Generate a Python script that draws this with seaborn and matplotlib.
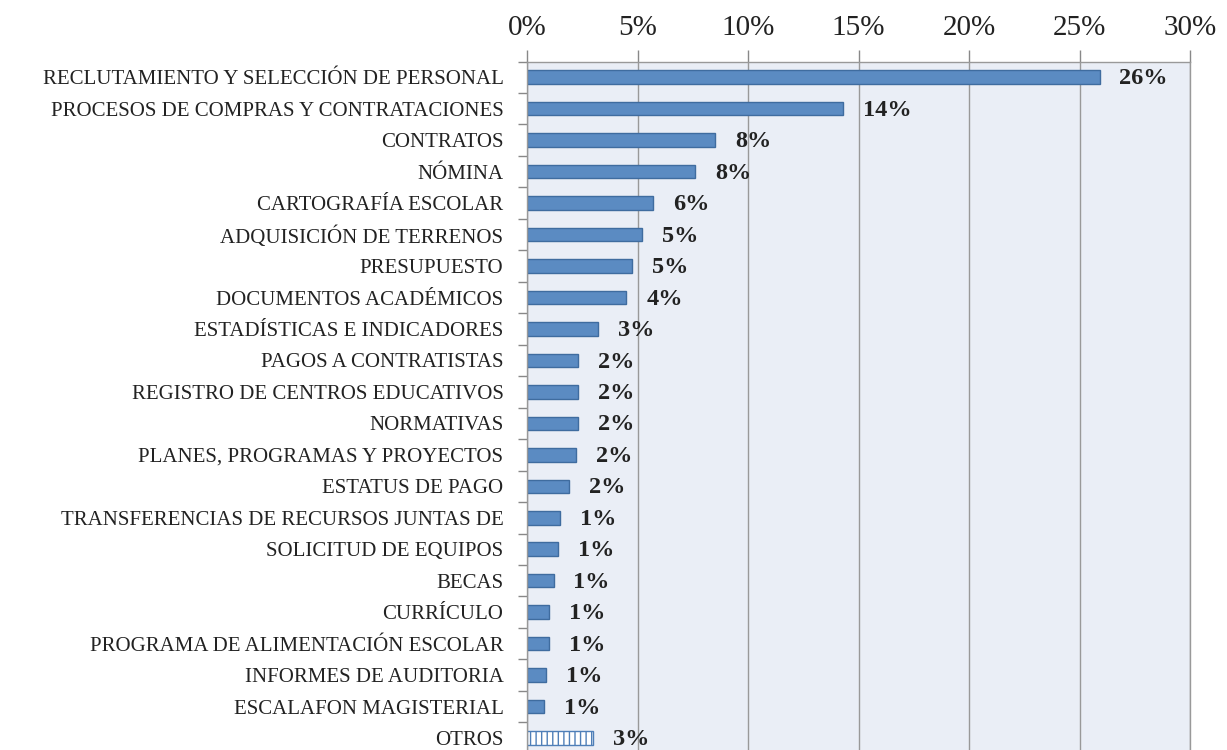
#!/usr/bin/env python3
# horizontal bar chart - share of requests per topic
import pandas as pd
import matplotlib
matplotlib.use('Agg')
import matplotlib.pyplot as plt
import seaborn as sns
from matplotlib.ticker import FixedLocator

# data
categorias = [
    'RECLUTAMIENTO Y SELECCIÓN DE PERSONAL',
    'PROCESOS DE COMPRAS Y CONTRATACIONES',
    'CONTRATOS',
    'NÓMINA',
    'CARTOGRAFÍA ESCOLAR',
    'ADQUISICIÓN DE TERRENOS',
    'PRESUPUESTO',
    'DOCUMENTOS ACADÉMICOS',
    'ESTADÍSTICAS E INDICADORES',
    'PAGOS A CONTRATISTAS',
    'REGISTRO DE CENTROS EDUCATIVOS',
    'NORMATIVAS',
    'PLANES, PROGRAMAS Y PROYECTOS',
    'ESTATUS DE PAGO',
    'TRANSFERENCIAS DE RECURSOS JUNTAS DE',
    'SOLICITUD DE EQUIPOS',
    'BECAS',
    'CURRÍCULO',
    'PROGRAMA DE ALIMENTACIÓN ESCOLAR',
    'INFORMES DE AUDITORIA',
    'ESCALAFON MAGISTERIAL',
    'OTROS',
]
porcentajes = [25.9, 14.3, 8.5, 7.6, 5.7, 5.2, 4.75, 4.5, 3.2, 2.3, 2.3, 2.3,
               2.2, 1.9, 1.5, 1.4, 1.2, 1.0, 1.0, 0.85, 0.77, 3.0]
etiquetas = ['26%', '14%', '8%', '8%', '6%', '5%', '5%', '4%', '3%', '2%', '2%',
             '2%', '2%', '2%', '1%', '1%', '1%', '1%', '1%', '1%', '1%', '3%']
x_ticks = [0, 5, 10, 15, 20, 25, 30]

df = pd.DataFrame({'categoria': categorias, 'pct': porcentajes})

sns.set_style('white')
plt.rcParams['font.family'] = ['Liberation Serif', 'DejaVu Serif']
plt.rcParams['hatch.linewidth'] = 1.0

fig = plt.figure(figsize=(12.27, 7.5), dpi=100)
ax = fig.add_axes([0.4295, 0.0, 0.5405, 0.918])
ax.set_facecolor('#EAEEF6')

sns.barplot(data=df, x='pct', y='categoria', orient='h', color='#5B8BC2',
            width=0.43, saturation=1, edgecolor='#3F6C9F', linewidth=1, ax=ax)

# "OTROS" bar: white with vertical hatch
last = ax.patches[len(categorias) - 1]
last.set_facecolor('white')
last.set_edgecolor('#4F7FB8')
last.set_hatch('|||')

for i, (v, lab) in enumerate(zip(porcentajes, etiquetas)):
    ax.text(v + 0.9, i + 0.05, lab, va='center', ha='left', fontsize=17.5,
            fontweight='bold', color='#222222')

ax.set_xlim(0, 30)
ax.set_ylim(21.38, -0.5)
ax.xaxis.set_major_locator(FixedLocator(x_ticks))
ax.set_xticklabels([f'{t}%' for t in x_ticks])
ax.xaxis.tick_top()
ax.tick_params(axis='x', which='major', direction='out', length=9, width=1,
               color='#888888', labelsize=21, pad=6, labelcolor='#222222')
ax.grid(axis='x', color='#999999', linewidth=1)
ax.set_axisbelow(True)

# y ticks between categories
ax.yaxis.set_minor_locator(FixedLocator([i + 0.5 for i in range(-1, len(categorias))]))
ax.tick_params(axis='y', which='major', length=0, labelsize=15, pad=17,
               labelcolor='#222222')
ax.tick_params(axis='y', which='minor', direction='out', length=6.5, width=1,
               color='#888888', left=True)

for s in ['top', 'right', 'left']:
    ax.spines[s].set_color('#999999')
    ax.spines[s].set_linewidth(1)
ax.spines['bottom'].set_visible(False)
ax.set_xlabel('')
ax.set_ylabel('')

plt.savefig('out.png', dpi=100)
